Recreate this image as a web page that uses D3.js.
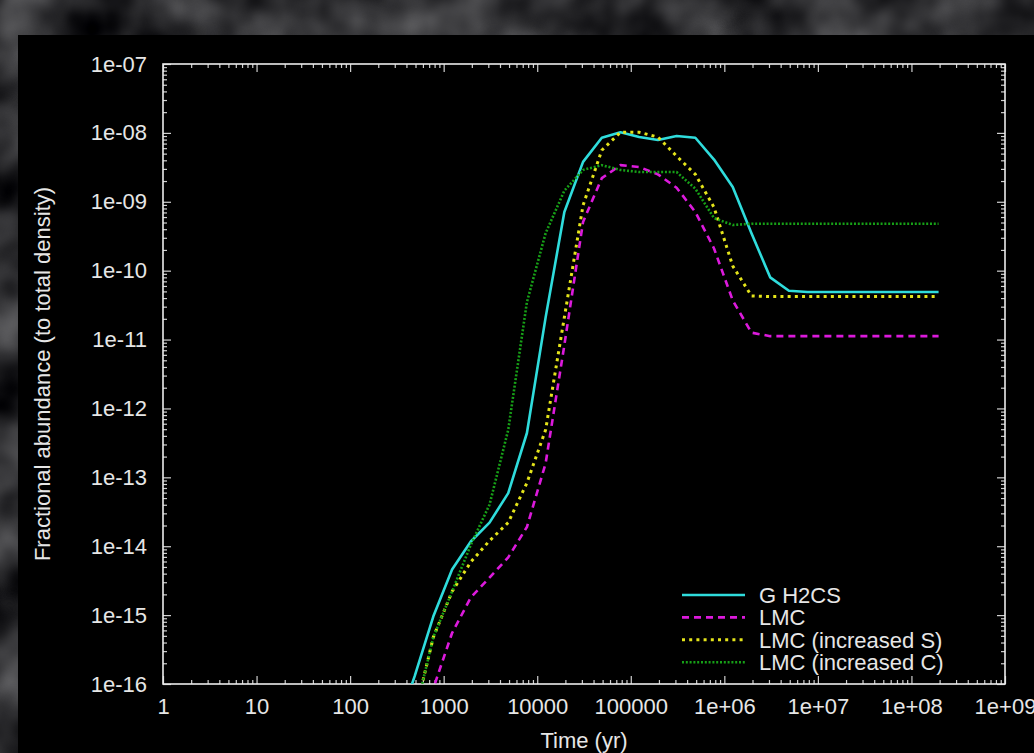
<!DOCTYPE html>
<html>
<head>
<meta charset="utf-8">
<script src="https://cdn.jsdelivr.net/npm/d3@7"></script>
<style>
  html, body { margin: 0; padding: 0; background: #222; }
  svg { display: block; }
  text { font-family: "Liberation Sans", Arial, sans-serif; }
</style>
</head>
<body>
<svg id="chart" width="1034" height="753"></svg>
<script>
// model times (yr)
var times = [310, 490, 776, 1230, 1950, 3090, 4900, 7760, 12300, 19500, 30900, 49000, 77600,
  123000, 195000, 309000, 490000, 776000, 1.23e6, 1.95e6, 3.09e6, 4.9e6, 7.76e6, 1.23e7,
  1.95e7, 3.09e7, 4.9e7, 7.76e7, 1.23e8, 1.95e8];

// fractional abundances, one value per time
var gH2CS = [2.1e-17, 1.3e-16, 9.6e-16, 4.6e-15, 1.17e-14, 2.2e-14, 5.9e-14, 4.4e-13, 2.1e-11,
  7.1e-10, 3.8e-9, 8.5e-9, 1.02e-8, 8.7e-9, 7.9e-9, 9.0e-9, 8.5e-9, 4.1e-9, 1.64e-9, 3.5e-10,
  8.0e-11, 5.1e-11, 4.9e-11, 4.9e-11, 4.9e-11, 4.9e-11, 4.9e-11, 4.9e-11, 4.9e-11, 4.9e-11];
var lmc = [1e-18, 1.26e-17, 8.7e-17, 5.5e-16, 1.8e-15, 3.5e-15, 6.9e-15, 1.9e-14, 1.6e-13, 8.3e-12,
  5.1e-10, 2.2e-9, 3.4e-9, 3.2e-9, 2.5e-9, 1.6e-9, 7.1e-10, 2.1e-10, 3.7e-11, 1.26e-11,
  1.12e-11, 1.12e-11, 1.12e-11, 1.12e-11, 1.12e-11, 1.12e-11, 1.12e-11, 1.12e-11, 1.12e-11, 1.12e-11];
var lmcS = [1e-18, 3.5e-17, 4.8e-16, 2.2e-15, 5.9e-15, 1.2e-14, 2.2e-14, 8.3e-14, 4.9e-13, 2.1e-11,
  8.9e-10, 5.6e-9, 1.02e-8, 1.02e-8, 8.7e-9, 4.6e-9, 2.5e-9, 8.3e-10, 1.17e-10, 4.3e-11,
  4.2e-11, 4.2e-11, 4.2e-11, 4.2e-11, 4.2e-11, 4.2e-11, 4.2e-11, 4.2e-11, 4.2e-11, 4.2e-11];
var lmcC = [1e-18, 3.5e-17, 4.8e-16, 2.2e-15, 1.05e-14, 4.0e-14, 4.9e-13, 3.5e-11, 3.5e-10, 1.45e-9,
  2.9e-9, 3.4e-9, 2.9e-9, 2.7e-9, 2.7e-9, 2.7e-9, 1.55e-9, 5.8e-10, 4.6e-10, 4.8e-10,
  4.8e-10, 4.8e-10, 4.8e-10, 4.8e-10, 4.8e-10, 4.8e-10, 4.8e-10, 4.8e-10, 4.8e-10, 4.8e-10];

var seriesNames = ["G H2CS", "LMC", "LMC (increased S)", "LMC (increased C)"];
var seriesValues = [gH2CS, lmc, lmcS, lmcC];

var xTickLabels = ["1", "10", "100", "1000", "10000", "100000", "1e+06", "1e+07", "1e+08", "1e+09"];
var yTickLabels = ["1e-16", "1e-15", "1e-14", "1e-13", "1e-12", "1e-11", "1e-10", "1e-09", "1e-08", "1e-07"];

var styles = [
  { color: "#2fdcdc", width: 2.6, dash: null },
  { color: "#dc1adc", width: 2.6, dash: "7,5" },
  { color: "#e4e41a", width: 3, dash: "3,4.2" },
  { color: "#17a017", width: 2.6, dash: "2,1.8" }
];

var svg = d3.select("#chart");
var W = 1034, H = 753;
var plot = { left: 163, top: 64, right: 1005, bottom: 684 };

// background texture + black panel
var defs = svg.append("defs");
var filt = defs.append("filter").attr("id", "noise").attr("x", 0).attr("y", 0)
  .attr("width", "100%").attr("height", "100%")
  .attr("color-interpolation-filters", "sRGB");
filt.append("feTurbulence").attr("type", "fractalNoise").attr("baseFrequency", "0.014")
  .attr("numOctaves", 3).attr("seed", 11);
filt.append("feColorMatrix").attr("type", "matrix")
  .attr("values", "0.55 0 0 0 -0.1  0.55 0 0 0 -0.1  0.55 0 0 0 -0.09  0 0 0 0 1");
svg.append("rect").attr("width", W).attr("height", H).attr("filter", "url(#noise)");
svg.append("rect").attr("x", 18).attr("y", 35).attr("width", W - 18).attr("height", H - 35)
  .attr("fill", "#000");

defs.append("clipPath").attr("id", "clip").append("rect")
  .attr("x", plot.left).attr("y", plot.top)
  .attr("width", plot.right - plot.left).attr("height", plot.bottom - plot.top);

var xScale = d3.scaleLog().domain([1, 1e9]).range([plot.left, plot.right]);
var yScale = d3.scaleLog().domain([1e-16, 1e-7]).range([plot.bottom, plot.top]);

var xMajor = d3.range(0, 10).map(function(k) { return Math.pow(10, k); });
var yMajor = d3.range(-16, -6).map(function(k) { return Math.pow(10, k); });
var xMinor = [], yMinor = [];
xMajor.slice(0, -1).forEach(function(v) { for (var m = 2; m < 10; m++) xMinor.push(v * m); });
yMajor.slice(0, -1).forEach(function(v) { for (var m = 2; m < 10; m++) yMinor.push(v * m); });

var tickColor = "#d0d0d0";
function styleAxis(g) {
  g.select(".domain").remove();
  g.selectAll(".tick line").attr("stroke", tickColor).attr("stroke-width", 1.2);
  g.selectAll("text").attr("fill", "#e6e6e6").style("font-size", "22px")
    .style("font-family", "'Liberation Sans', Arial, sans-serif");
}

// bottom
svg.append("g").attr("transform", "translate(0," + plot.bottom + ")")
  .call(d3.axisBottom(xScale).tickValues(xMajor).tickSize(-8).tickPadding(14)
    .tickFormat(function(d, i) { return xTickLabels[i]; }))
  .call(styleAxis);
svg.append("g").attr("transform", "translate(0," + plot.bottom + ")")
  .call(d3.axisBottom(xScale).tickValues(xMinor).tickSize(-4).tickFormat(""))
  .call(styleAxis);
// top
svg.append("g").attr("transform", "translate(0," + plot.top + ")")
  .call(d3.axisTop(xScale).tickValues(xMajor).tickSize(-8).tickFormat(""))
  .call(styleAxis);
svg.append("g").attr("transform", "translate(0," + plot.top + ")")
  .call(d3.axisTop(xScale).tickValues(xMinor).tickSize(-4).tickFormat(""))
  .call(styleAxis);
// left
svg.append("g").attr("transform", "translate(" + plot.left + ",0)")
  .call(d3.axisLeft(yScale).tickValues(yMajor).tickSize(-8).tickPadding(16)
    .tickFormat(function(d, i) { return yTickLabels[i]; }))
  .call(styleAxis);
svg.append("g").attr("transform", "translate(" + plot.left + ",0)")
  .call(d3.axisLeft(yScale).tickValues(yMinor).tickSize(-4).tickFormat(""))
  .call(styleAxis);
// right
svg.append("g").attr("transform", "translate(" + plot.right + ",0)")
  .call(d3.axisRight(yScale).tickValues(yMajor).tickSize(-8).tickFormat(""))
  .call(styleAxis);
svg.append("g").attr("transform", "translate(" + plot.right + ",0)")
  .call(d3.axisRight(yScale).tickValues(yMinor).tickSize(-4).tickFormat(""))
  .call(styleAxis);

// frame
svg.append("rect").attr("x", plot.left).attr("y", plot.top)
  .attr("width", plot.right - plot.left).attr("height", plot.bottom - plot.top)
  .attr("fill", "none").attr("stroke", "#ececec").attr("stroke-width", 1.6);

// axis titles
svg.append("text").attr("x", (plot.left + plot.right) / 2).attr("y", 748)
  .attr("text-anchor", "middle").attr("fill", "#e6e6e6").style("font-size", "22px")
  .text("Time (yr)");
svg.append("text").attr("transform", "translate(50," + ((plot.top + plot.bottom) / 2) + ") rotate(-90)")
  .attr("text-anchor", "middle").attr("fill", "#e6e6e6").style("font-size", "22px")
  .text("Fractional abundance (to total density)");

// curves
var line = d3.line()
  .x(function(d) { return xScale(d[0]); })
  .y(function(d) { return yScale(d[1]); });

var curves = svg.append("g").attr("clip-path", "url(#clip)");
seriesValues.forEach(function(vals, i) {
  var pts = times.map(function(t, j) { return [t, vals[j]]; });
  curves.append("path").datum(pts)
    .attr("d", line)
    .attr("fill", "none")
    .attr("stroke", styles[i].color)
    .attr("stroke-width", styles[i].width)
    .attr("stroke-linejoin", "round")
    .attr("stroke-dasharray", styles[i].dash);
});

// legend
var legend = svg.append("g");
seriesNames.forEach(function(name, i) {
  var yb = 603 + i * 22.4;
  legend.append("line").attr("x1", 682).attr("x2", 745)
    .attr("y1", yb - 8).attr("y2", yb - 8)
    .attr("stroke", styles[i].color).attr("stroke-width", styles[i].width)
    .attr("stroke-dasharray", styles[i].dash);
  legend.append("text").attr("x", 759).attr("y", yb)
    .attr("fill", "#e6e6e6").style("font-size", "22px").text(name);
});
</script>
</body>
</html>
